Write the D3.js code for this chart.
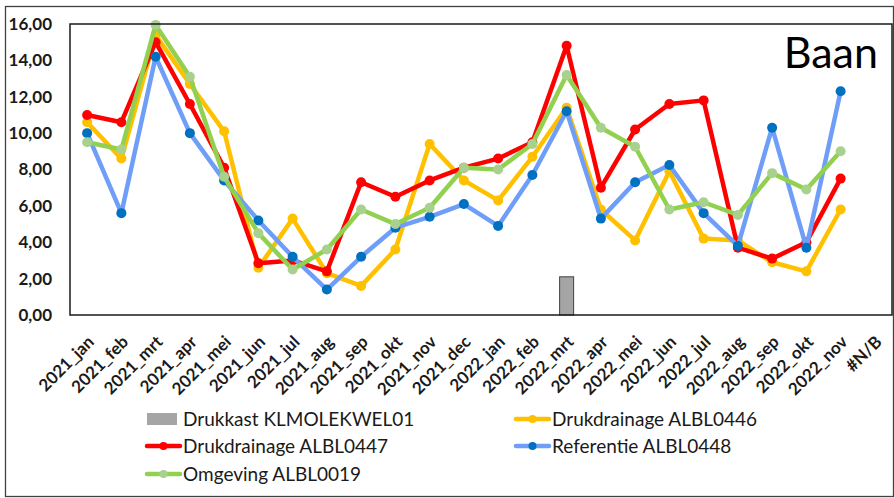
<!DOCTYPE html>
<html>
<head>
<meta charset="utf-8">
<script src="https://cdn.jsdelivr.net/npm/d3@7"></script>
<style>
  body { margin: 0; background: #fff; }
  svg { display: block; font-family: Lato, "Open Sans", sans-serif; }
</style>
</head>
<body>
<svg width="894" height="498"></svg>
<script>
// categorieën (maanden), laatste is #N/B zonder waarden
const maanden = ['2021_jan','2021_feb','2021_mrt','2021_apr','2021_mei','2021_jun','2021_jul','2021_aug',
  '2021_sep','2021_okt','2021_nov','2021_dec','2022_jan','2022_feb','2022_mrt','2022_apr','2022_mei',
  '2022_jun','2022_jul','2022_aug','2022_sep','2022_okt','2022_nov','#N/B']

// staafserie: alleen in 2022_mrt een waarde
const drukkast = [null,null,null,null,null,null,null,null,null,null,null,null,null,null,2.1,null,null,null,null,null,null,null,null,null]

const drukdrainage0446 = [10.6,8.6,15.4,12.7,10.1,2.6,5.3,2.3,1.6,3.6,9.4,7.4,6.3,8.7,11.4,5.8,4.1,7.9,4.2,4.1,2.9,2.4,5.8,null]
const drukdrainage0447 = [11.0,10.6,15.0,11.6,8.1,2.85,3.0,2.4,7.3,6.5,7.4,8.1,8.6,9.5,14.8,7.0,10.2,11.6,11.8,3.7,3.1,4.0,7.5,null]
const referentie0448   = [10.0,5.6,14.2,10.0,7.4,5.2,3.2,1.4,3.2,4.8,5.4,6.1,4.9,7.7,11.2,5.3,7.3,8.25,5.6,3.8,10.3,3.7,12.3,null]
const omgeving0019     = [9.5,9.1,15.95,13.1,7.6,4.5,2.5,3.6,5.8,5.0,5.9,8.1,8.0,9.4,13.2,10.3,9.25,5.8,6.2,5.5,7.8,6.9,9.0,null]

const yTicks = [0, 2, 4, 6, 8, 10, 12, 14, 16]

// lijnseries in tekenvolgorde
const series = [
  { naam: 'Drukdrainage ALBL0446', data: drukdrainage0446, lijn: '#ffc000', punt: '#ffc000' },
  { naam: 'Drukdrainage ALBL0447', data: drukdrainage0447, lijn: '#ff0000', punt: '#ff0000' },
  { naam: 'Referentie ALBL0448', data: referentie0448, lijn: '#6f9ef8', punt: '#0070c0' },
  { naam: 'Omgeving ALBL0019', data: omgeving0019, lijn: '#92d050', punt: '#a9d18e' }
]

const svg = d3.select('svg')

// plotgebied
const pLeft = 70, pRight = 892, pTop = 24, pBottom = 315

const nl = d3.formatLocale({ decimal: ',', thousands: '.', grouping: [3], currency: ['€', ''] })
const fmt = nl.format('.2f')

const x = d3.scaleBand().domain(maanden).range([pLeft, pRight])
const y = d3.scaleLinear().domain([0, 16]).range([pBottom, pTop])

// buitenrand van de grafiek
svg.append('rect')
  .attr('x', 5.5).attr('y', 6.5).attr('width', 888).attr('height', 490)
  .attr('fill', '#fff').attr('stroke', '#404040').attr('stroke-width', 1.3)

// y-as labels
const yAxis = d3.axisLeft(y).tickValues(yTicks).tickFormat(fmt).tickSize(0).tickPadding(18)
svg.append('g')
  .attr('transform', `translate(${pLeft},0)`)
  .call(yAxis)
  .call(g => g.select('.domain').remove())
  .selectAll('text')
  .attr('font-family', 'Lato, sans-serif')
  .attr('font-size', 17).attr('font-weight', 'bold').attr('fill', '#1a1a1a')

// x-as labels, 45 graden gedraaid
const xAxis = d3.axisBottom(x).tickSize(0).tickPadding(0)
svg.append('g')
  .attr('transform', `translate(0,${pBottom})`)
  .call(xAxis)
  .call(g => g.select('.domain').remove())
  .selectAll('text')
  .attr('font-family', 'Lato, sans-serif')
  .attr('font-size', 17).attr('font-weight', 'bold').attr('fill', '#1a1a1a')
  .attr('text-anchor', 'end')
  .attr('dy', 0)
  .attr('transform', 'translate(8,28) rotate(-45)')

// staaf
const bw = 14
svg.append('g')
  .selectAll('rect')
  .data(maanden.map((m, i) => ({ m, v: drukkast[i] })).filter(d => d.v != null))
  .enter()
  .append('rect')
  .attr('x', d => x(d.m) + x.bandwidth() / 2 - bw / 2)
  .attr('y', d => y(d.v))
  .attr('width', bw)
  .attr('height', d => y(0) - y(d.v))
  .attr('fill', '#a5a5a5')
  .attr('stroke', '#404040')
  .attr('stroke-width', 1)

// lijnen met punten
const line = d3.line()
  .defined(d => d.v != null)
  .x(d => x(d.m) + x.bandwidth() / 2)
  .y(d => y(d.v))

series.forEach(s => {
  const pts = maanden.map((m, i) => ({ m, v: s.data[i] }))
  const g = svg.append('g')
  g.append('path')
    .datum(pts)
    .attr('d', line)
    .attr('fill', 'none')
    .attr('stroke', s.lijn)
    .attr('stroke-width', 4.5)
    .attr('stroke-linejoin', 'round')
  g.selectAll('circle')
    .data(pts.filter(d => d.v != null))
    .enter()
    .append('circle')
    .attr('cx', d => x(d.m) + x.bandwidth() / 2)
    .attr('cy', d => y(d.v))
    .attr('r', 5)
    .attr('fill', s.punt)
})

// rand plotgebied
svg.append('rect')
  .attr('x', pLeft).attr('y', pTop).attr('width', pRight - pLeft).attr('height', pBottom - pTop)
  .attr('fill', 'none').attr('stroke', '#1a1a1a').attr('stroke-width', 1.5)

// titel in de grafiek
svg.append('text')
  .attr('x', 878).attr('y', 68)
  .attr('text-anchor', 'end')
  .attr('font-family', 'Lato, sans-serif')
  .attr('font-size', 43)
  .attr('fill', '#000')
  .text('Baan')

// legenda
const legenda = [
  { naam: 'Drukkast KLMOLEKWEL01', type: 'bar', kleur: '#a5a5a5', x: 147, y: 419 },
  { naam: 'Drukdrainage ALBL0446', type: 'line', kleur: '#ffc000', punt: '#ffc000', x: 516, y: 419 },
  { naam: 'Drukdrainage ALBL0447', type: 'line', kleur: '#ff0000', punt: '#ff0000', x: 147, y: 446 },
  { naam: 'Referentie ALBL0448', type: 'line', kleur: '#6f9ef8', punt: '#0070c0', x: 516, y: 446 },
  { naam: 'Omgeving ALBL0019', type: 'line', kleur: '#92d050', punt: '#a9d18e', x: 147, y: 474 }
]

const lg = svg.append('g')
legenda.forEach(l => {
  if (l.type === 'bar') {
    lg.append('rect').attr('x', l.x).attr('y', l.y - 6).attr('width', 30).attr('height', 12).attr('fill', l.kleur)
  } else {
    lg.append('line').attr('x1', l.x).attr('x2', l.x + 33).attr('y1', l.y).attr('y2', l.y)
      .attr('stroke', l.kleur).attr('stroke-width', 4.5).attr('stroke-linecap', 'round')
    lg.append('circle').attr('cx', l.x + 16.5).attr('cy', l.y).attr('r', 4).attr('fill', l.punt)
  }
  lg.append('text')
    .attr('x', l.x + 36).attr('y', l.y)
    .attr('dy', '0.35em')
    .attr('font-family', 'Lato, sans-serif')
    .attr('font-size', 19)
    .attr('fill', '#1a1a1a')
    .text(l.naam)
})
</script>
</body>
</html>
